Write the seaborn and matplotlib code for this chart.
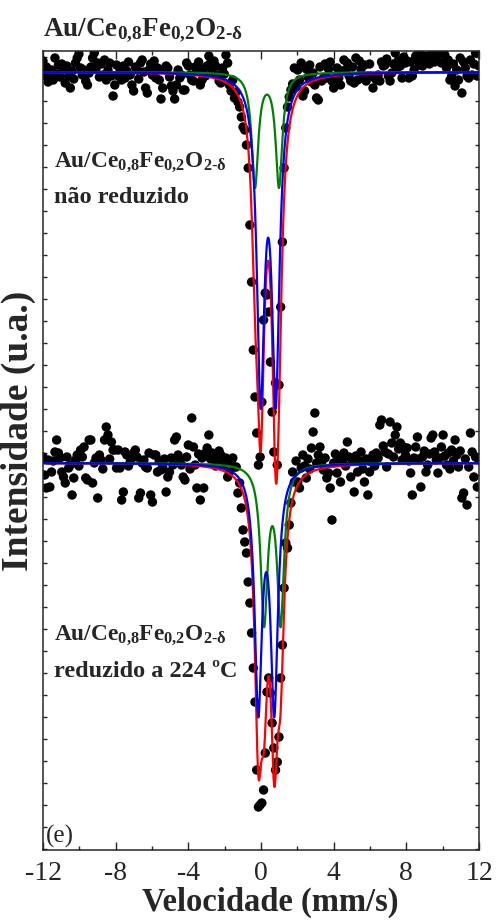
import numpy as np
import pandas as pd
import seaborn as sns
import matplotlib.pyplot as plt
from matplotlib.ticker import MultipleLocator

# velocity channels (mm/s)
n_chan = 256
v_lo, v_hi = -12, 12

# counts per channel (baseline ~10000)
top_counts = [
    10011, 9997, 10005, 9990, 9994, 10002, 9992, 10014, 9998, 10007, 9995, 10008, 10003, 9989, 10006, 9996,
    9984, 10001, 9993, 10009, 10014, 10018, 10004, 9997, 10002, 9991, 9987, 9999, 10005, 10014, 10019, 10003,
    10009, 9995, 10008, 9997, 10012, 9992, 10002, 10009, 9996, 9976, 9987, 10007, 9996, 10003, 9992, 10006,
    9994, 10001, 10010, 9997, 9987, 9981, 10005, 10002, 9993, 10009, 10012, 10000, 9984, 9979, 10002, 10008,
    9997, 10011, 9994, 10004, 9992, 9973, 9984, 10003, 10006, 10004, 9995, 9986, 9981, 9973, 9987, 10002,
    9994, 9997, 9982, 9982, 10009, 10006, 9997, 9992, 9991, 10005, 10001, 10010, 9987, 9992, 10003, 9996,
    10006, 10016, 10009, 10000, 10011, 10006, 9997, 9991, 9989, 10004, 9998, 10017, 10009, 9987, 9981, 9992,
    9974, 9980, 9970, 9965, 9955, 9945, 9942, 9927, 9904, 9847, 9790, 9722, 9675, 9639, 9607, 9615,
    9670, 9752, 9779, 9777, 9760, 9710, 9660, 9620, 9689, 9607, 9687, 9765, 9830, 9904, 9944, 9965,
    9975, 9982, 9988, 10004, 9985, 10002, 9992, 10009, 9976, 9981, 10003, 9995, 10007, 9990, 9999, 9987,
    9974, 9972, 10005, 9991, 9994, 10008, 9994, 10003, 10010, 9991, 9984, 9987, 10004, 9994, 9987, 10001,
    10012, 10002, 10009, 9996, 9991, 10005, 9989, 10014, 9992, 10011, 10003, 9994, 10007, 9991, 9996, 10008,
    9996, 9984, 9994, 9992, 9997, 9991, 10010, 10006, 10007, 10013, 9996, 9991, 9999, 10008, 10019, 10004,
    10012, 10006, 9994, 10015, 10009, 10011, 9994, 10010, 9996, 10002, 10016, 10012, 10007, 10018, 10006, 10013,
    10011, 10016, 10008, 10014, 10019, 10010, 10014, 10017, 10019, 10009, 10022, 10017, 10004, 10012, 9992, 9996,
    10008, 9986, 10002, 9992, 10014, 9979, 10010, 10004, 9996, 9994, 10012, 9997, 10008, 10019, 9996, 10006,
]
bottom_counts = [
    10006, 9988, 9975, 10003, 9976, 9991, 10002, 10011, 10023, 10010, 10005, 9991, 9986, 9980, 10006, 9995,
    9998, 9968, 9985, 10003, 10008, 9997, 10013, 10006, 10016, 9985, 9983, 10023, 10023, 9980, 10000, 10005,
    9965, 10008, 10003, 9994, 10023, 10036, 10028, 10004, 10021, 10013, 10013, 9995, 10013, 9995, 9963, 9971,
    10011, 10008, 9997, 10001, 10006, 10010, 10013, 10006, 9965, 9970, 10000, 10003, 9996, 9995, 10010, 9968,
    9961, 10008, 10008, 9991, 10002, 9993, 9996, 10004, 9971, 9986, 9991, 10005, 9998, 10023, 10026, 10008,
    10003, 9998, 9986, 9983, 10006, 10018, 9994, 10045, 10016, 9998, 9975, 10009, 9963, 10005, 9975, 10010,
    10015, 10028, 10004, 10010, 10006, 9997, 10003, 10012, 10008, 10000, 9998, 10005, 9986, 9991, 10002, 10005,
    9996, 9996, 9970, 9980, 9955, 9933, 9921, 9910, 9881, 9860, 9830, 9795, 9761, 9693, 9656, 9658,
    9660, 9673, 9710, 9771, 9785, 9770, 9740, 9715, 9693, 9701, 9726, 9785, 9818, 9875, 9920, 9915,
    9938, 9960, 9991, 9981, 10002, 9981, 9975, 9995, 10008, 9997, 9985, 10004, 9994, 10015, 10031, 10050,
    10000, 10008, 10016, 10001, 9993, 10005, 9985, 9990, 9975, 9943, 10000, 10009, 9990, 10004, 9981, 10002,
    10010, 9997, 10021, 10006, 9986, 10003, 9971, 10007, 9991, 10002, 10011, 9994, 9981, 10004, 9968, 9991,
    10001, 10008, 9997, 10010, 10005, 10038, 10043, 10017, 10011, 9996, 10009, 10041, 10020, 10006, 10028, 10036,
    10014, 10020, 10003, 10016, 10008, 10015, 10002, 9990, 9968, 10005, 10016, 10026, 10004, 9976, 10006, 10012,
    9991, 9998, 10009, 10025, 10028, 10011, 10003, 9990, 10005, 10016, 10028, 10007, 9998, 10010, 9994, 10013,
    10002, 10023, 10008, 9996, 10012, 9965, 9970, 10004, 9958, 9996, 10030, 10011, 9986, 10006, 9976, 10003,
]
baseline_counts = 10000
stack_offset = 0.0391

# fitted doublets [blue, green]: isomer shift, quadrupole splitting, FWHM (mm/s), line depth
top_is = [0.395, 0.33]
top_qs = [0.83, 1.32]
top_fwhm = [0.50, 0.44]
top_depth = [0.0311, 0.0113]
bot_is = [0.29, 0.625]
bot_qs = [0.88, 0.91]
bot_fwhm = [0.48, 0.46]
bot_depth = [0.0238, 0.0155]

top_text = "$\\mathrm{Au/Ce_{0{,}8}Fe_{0{,}2}O_{2\u2010δ}}$"
sample_label = ["não reduzido", "reduzido a 224 ºC"]

sns.set_style("ticks")
plt.rcParams["font.family"] = ["Liberation Serif", "DejaVu Serif"]
plt.rcParams["axes.unicode_minus"] = False
plt.rcParams["mathtext.fontset"] = "custom"
plt.rcParams["mathtext.rm"] = "Liberation Serif:bold"
plt.rcParams["mathtext.it"] = "Liberation Serif:bold"
plt.rcParams["mathtext.bf"] = "Liberation Serif:bold"


def doublet(v, iso, qs, fwhm, depth):
    g = fwhm / 2
    out = np.zeros_like(v)
    for pos in (iso - qs / 2, iso + qs / 2):
        out += depth * g**2 / ((v - pos)**2 + g**2)
    return out


vel = np.linspace(v_lo, v_hi, n_chan)
vfine = np.linspace(v_lo, v_hi, 1601)

pts = pd.DataFrame({
    "v": np.concatenate([vel, vel]),
    "y": np.concatenate([np.array(top_counts) / baseline_counts + stack_offset,
                         np.array(bottom_counts) / baseline_counts]),
})

fig = plt.figure(figsize=(4.96, 9.22), dpi=100)
ax = fig.add_axes([43 / 496, 72 / 922, 436 / 496, 799 / 922])

sns.scatterplot(data=pts, x="v", y="y", color="black", s=46, edgecolor="none", ax=ax, zorder=2)

for iso, qs, fw, dp, off in [(top_is, top_qs, top_fwhm, top_depth, stack_offset),
                             (bot_is, bot_qs, bot_fwhm, bot_depth, 0.0)]:
    blue = doublet(vfine, iso[0], qs[0], fw[0], dp[0])
    green = doublet(vfine, iso[1], qs[1], fw[1], dp[1])
    sns.lineplot(x=vfine, y=1 - blue - green + off, color="red", lw=1.6, ax=ax, zorder=3)
    sns.lineplot(x=vfine, y=1 - green + off, color="green", lw=1.6, ax=ax, zorder=4)
    sns.lineplot(x=vfine, y=1 - blue + off, color="blue", lw=1.6, ax=ax, zorder=5)

ax.set_xlim(v_lo, v_hi)
ax.set_ylim(0.9613, 1.0412)
ax.xaxis.set_major_locator(MultipleLocator(4))
ax.xaxis.set_minor_locator(MultipleLocator(2))
ax.yaxis.set_major_locator(MultipleLocator(0.0022))
ax.tick_params(axis="both", which="both", direction="in", top=True, right=True, width=1)
ax.tick_params(axis="x", which="major", length=6, labelsize=20, pad=8)
ax.tick_params(axis="x", which="minor", length=3)
ax.tick_params(axis="y", length=3, labelleft=False)
for sp in ax.spines.values():
    sp.set_linewidth(1.1)

ax.set_xlabel("Velocidade (mm/s)", fontsize=23.5, fontweight="bold")
ax.xaxis.set_label_coords(0.522, -0.046)
ax.set_ylabel("Intensidade (u.a.)", fontsize=27, fontweight="bold")
ax.yaxis.set_label_coords(-0.016, 0.525)

fig.text(43 / 496, 1 - 35 / 922, top_text, fontsize=19.5, va="baseline", ha="left")
fig.text(54 / 496, 1 - 167 / 922, top_text, fontsize=16.8, va="baseline", ha="left")
fig.text(54 / 496, 1 - 203 / 922, sample_label[0], fontsize=17.5, fontweight="bold", va="baseline")
fig.text(54 / 496, 1 - 640 / 922, top_text, fontsize=16.8, va="baseline", ha="left")
fig.text(54 / 496, 1 - 677 / 922, sample_label[1], fontsize=17.5, fontweight="bold", va="baseline")
fig.text(46 / 496, 1 - 843 / 922, "(e)", fontsize=18, va="baseline")

fig.savefig("out.png", dpi=100)
